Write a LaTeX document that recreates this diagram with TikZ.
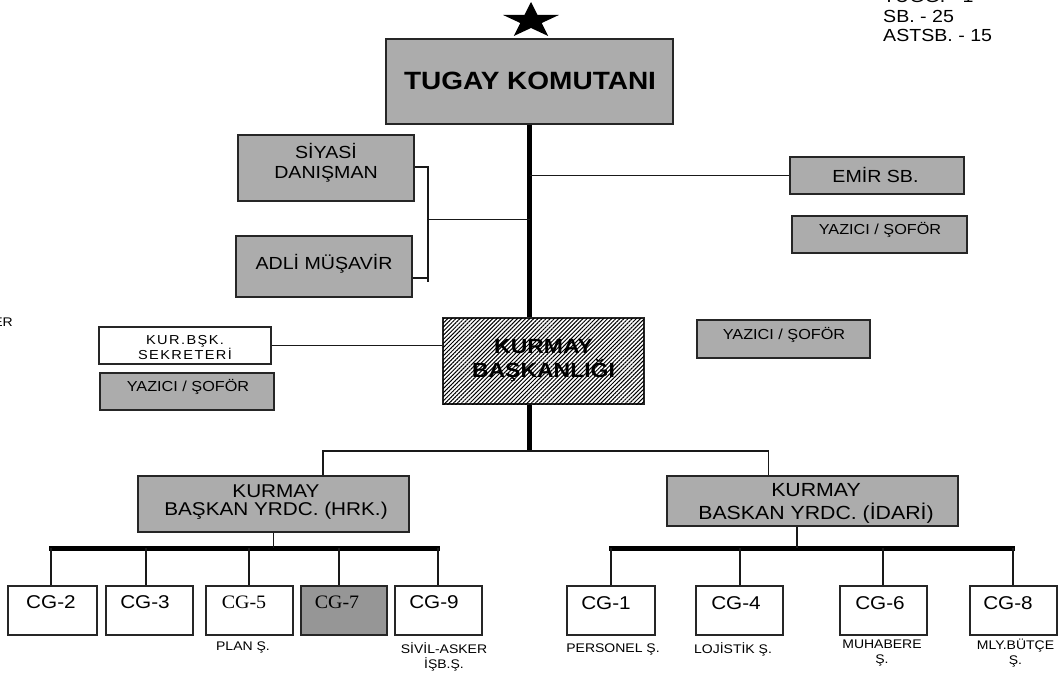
\documentclass[tikz,border=0pt]{standalone}
\usepackage{fontspec}
\setmainfont{Liberation Sans}[FakeStretch=1.12]
\newfontfamily\cgserif{Liberation Serif}[FakeStretch=1.05]
\newfontfamily\spacedsans{Liberation Sans}[FakeStretch=1.12,LetterSpace=11]
\usetikzlibrary{patterns.meta,backgrounds}
\definecolor{boxgray}{RGB}{172,172,172}
\definecolor{darkgray7}{RGB}{150,150,150}
\newcommand\setfs[2]{\fontsize{#1}{#2}\selectfont}
\begin{document}
\begin{tikzpicture}[x=1pt,y=-1pt,
  box/.style={draw=black!85, line width=1.3pt, inner sep=0pt},
  gbox/.style={box, fill=boxgray},
  wbox/.style={box, fill=white},
  txt/.style={inner sep=0pt, align=center, text=black},
  conn/.style={draw=black!90, line width=1.2pt},
  heavy/.style={draw=black, line width=5pt},
  cgbox/.style={box, fill=white, minimum height=49pt},
  cgtext/.style={txt, font=\setfs{18.5}{20}},
  cgstext/.style={txt, font=\cgserif\setfs{19}{20}},
  lab/.style={txt, font=\setfs{12.5}{15}},
  small/.style={txt, font=\setfs{14.5}{16}},
  mid/.style={txt, font=\setfs{17.5}{20}},
]
\useasboundingbox (0,0) rectangle (1062,672);

% ---------- boxes ----------
\node[gbox, minimum width=287pt, minimum height=85pt] (tk) at (529.5,81.5) {};
\node[txt, font=\bfseries\setfs{25}{27}] (tkt) at (530,81) {TUGAY KOMUTANI};

\node[gbox, minimum width=176pt, minimum height=66pt] (siy) at (326,168) {};
\node[mid] (siyt) at (326,162.5) {SİYASİ\\DANIŞMAN};

\node[gbox, minimum width=176pt, minimum height=61pt] (adli) at (324,266.5) {};
\node[mid] (adlit) at (324,264) {ADLİ MÜŞAVİR};

\node[gbox, minimum width=174pt, minimum height=37pt] (emir) at (877,175.5) {};
\node[mid] (emirt) at (875.5,175) {EMİR SB.};

\node[gbox, minimum width=175pt, minimum height=37pt] (yaz1) at (879.5,234.5) {};
\node[small] (yaz1t) at (880,230) {YAZICI / ŞOFÖR};

\node[wbox, minimum width=172pt, minimum height=37pt] (sek) at (185,345.5) {};
\node[txt, font=\spacedsans\setfs{13}{14}] (sekt) at (185,348) {KUR.BŞK.\\SEKRETERİ};

\node[gbox, minimum width=174pt, minimum height=37pt] (yaz2) at (187,391.5) {};
\node[small] (yaz2t) at (188,387) {YAZICI / ŞOFÖR};

\node[gbox, minimum width=173pt, minimum height=38pt] (yaz3) at (783.5,339) {};
\node[small] (yaz3t) at (784,334.5) {YAZICI / ŞOFÖR};

\node[box, fill=white, postaction={pattern={Lines[angle=45,distance=2.9pt,line width=1pt]}},
      minimum width=201pt, minimum height=86pt] (kb) at (543.5,361) {};
\node[txt, font=\bfseries\setfs{20.5}{24}] (kbt) at (543.5,360.5) {KURMAY\\BAŞKANLIĞI};

\node[gbox, minimum width=271pt, minimum height=56pt] (hrk) at (273.5,504) {};
\node[txt, font=\setfs{18.5}{18}] (hrkt) at (276,502.5) {KURMAY\\BAŞKAN YRDC. (HRK.)};

\node[gbox, minimum width=291pt, minimum height=50pt] (idr) at (812.5,501) {};
\node[txt, font=\setfs{19}{23.5}] (idrt) at (816,503.5) {KURMAY\\BASKAN YRDC. (İDARİ)};

% CG boxes
\node[cgbox, minimum width=89pt] (cg2) at (52.5,610.5) {};
\node[cgbox, minimum width=87pt] (cg3) at (149.5,610.5) {};
\node[cgbox, minimum width=87pt] (cg5) at (249.5,610.5) {};
\node[cgbox, minimum width=86pt, fill=darkgray7] (cg7) at (344,610.5) {};
\node[cgbox, minimum width=87pt] (cg9) at (438.5,610.5) {};
\node[cgbox, minimum width=88pt] (cg1) at (611,610.5) {};
\node[cgbox, minimum width=87pt] (cg4) at (739.5,610.5) {};
\node[cgbox, minimum width=87pt] (cg6) at (883.5,610.5) {};
\node[cgbox, minimum width=87pt] (cg8) at (1013.5,610.5) {};

\node[cgtext] (cg2t) at (51,602) {CG-2};
\node[cgtext] (cg3t) at (145,602) {CG-3};
\node[cgstext] (cg5t) at (244,602) {CG-5};
\node[cgstext] (cg7t) at (337,602) {CG-7};
\node[cgtext] (cg9t) at (434,602) {CG-9};
\node[cgtext] (cg1t) at (606,603) {CG-1};
\node[cgtext] (cg4t) at (736,603) {CG-4};
\node[cgtext] (cg6t) at (880,603) {CG-6};
\node[cgtext] (cg8t) at (1008,603) {CG-8};

% labels under CG boxes
\node[lab] (l5) at (243,647) {PLAN Ş.};
\node[lab] (l9) at (444,656.5) {SİVİL-ASKER\\İŞB.Ş.};
\node[lab] (l1) at (613,649) {PERSONEL Ş.};
\node[lab] (l4) at (733,649) {LOJİSTİK Ş.};
\node[lab] (l6) at (882,653.5) {MUHABERE\\Ş.};
\node[lab] (l8) at (1015.5,653.5) {MLY.BÜTÇE\\Ş.};

% top right personnel text
\node[txt, anchor=base west, font=\setfs{17.5}{19}] (p1) at (883,2.5) {TUĞG. - 1};
\node[txt, anchor=base west, font=\setfs{17.5}{19}] (p2) at (883,22) {SB. - 25};
\node[txt, anchor=base west, font=\setfs{17.5}{19}] (p3) at (883,41) {ASTSB. - 15};

% cut text at left edge
\node[txt, anchor=base east, font=\setfs{12.5}{14}] (er) at (13,326) {ER};

% star
\begin{scope}[shift={(531,20.8)}, xscale=1.56]
\fill[black] (0,-18.8) -- (4.23,-5.82) -- (17.88,-5.81) -- (6.85,2.22) -- (11.05,15.21)
  -- (0,7.2) -- (-11.05,15.21) -- (-6.85,2.22) -- (-17.88,-5.81) -- (-4.23,-5.82) -- cycle;
\end{scope}

% ---------- connectors ----------
\begin{scope}[on background layer]
\fill[white] (0,0) rectangle (1062,672);
\coordinate (hj) at (529.5,451);
\draw[heavy] (tk.south) -- (tk.south |- kb.north);
\draw[heavy] (tk.south |- kb.south) -- (hj);

\coordinate (bt) at (428,167);
\coordinate (bb) at (428,282);
\coordinate (ba) at (428,278);
\coordinate (bm) at (428,219.5);
\draw[conn] (siy.east |- bt) -- (bt) -- (bb);
\draw[conn] (ba -| adli.east) -- (ba);
\draw[conn] (bm) -- (bm -| tk.south);

\draw[conn] (emir.west -| tk.south) -- (emir.west);
\draw[conn] (sek.east) -- (sek.east -| kb.west);

\coordinate (hl) at (323,451);
\coordinate (hr) at (768.5,451);
\draw[conn] (hl |- hrk.north) -- (hl) -- (hr) -- (hr |- idr.north);

\coordinate (lb1) at (49,548);
\coordinate (lb2) at (440,548);
\draw[heavy] (lb1) -- (lb2);
\draw[conn] (hrk.south) -- (hrk.south |- lb1);
\foreach \n/\x in {cg2/51, cg3/146, cg5/249, cg7/339, cg9/438}
  \draw[conn] (\x,548) -- (\x,548 |- \n.north);

\coordinate (rb1) at (609,548);
\coordinate (rb2) at (1015,548);
\coordinate (rdrop) at (797,548);
\draw[heavy] (rb1) -- (rb2);
\draw[conn] (rdrop |- idr.south) -- (rdrop);
\foreach \n/\x in {cg1/611, cg4/740, cg6/883, cg8/1013}
  \draw[conn] (\x,548) -- (\x,548 |- \n.north);
\end{scope}
\end{tikzpicture}
\end{document}
